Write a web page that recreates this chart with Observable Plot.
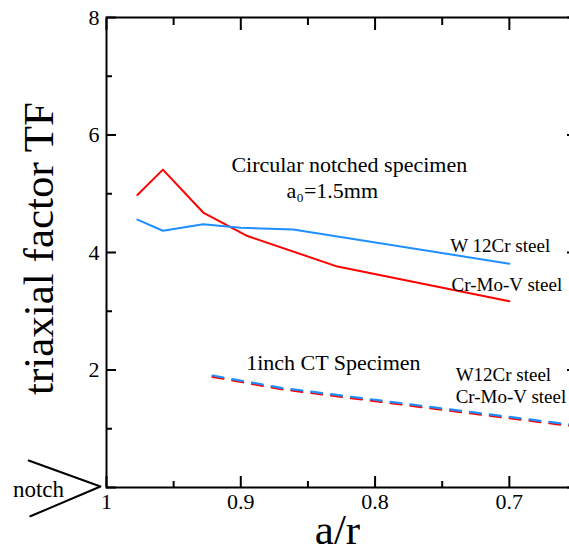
<!DOCTYPE html>
<html><head><meta charset="utf-8">
<script src="https://cdn.jsdelivr.net/npm/d3@7"></script>
<script src="https://cdn.jsdelivr.net/npm/@observablehq/plot@0.6"></script>
<style>html,body{margin:0;padding:0;background:#fff;overflow:hidden}</style>
</head><body><div id="chart"></div>
<script>
// Circular notched specimen, a0 = 1.5mm
const circW12Cr_x = [0.977, 0.958, 0.928, 0.900, 0.861, 0.700];
const circW12Cr_y = [4.56, 4.37, 4.48, 4.42, 4.39, 3.81];
const circCrMoV_x = [0.977, 0.958, 0.928, 0.895, 0.828, 0.700];
const circCrMoV_y = [4.98, 5.41, 4.68, 4.28, 3.76, 3.17];
// 1inch CT specimen
const ctW12Cr_x = [0.921, 0.870, 0.748, 0.650];
const ctW12Cr_y = [1.906, 1.697, 1.340, 1.058];
const ctCrMoV_x = [0.921, 0.870, 0.748, 0.650];
const ctCrMoV_y = [1.884, 1.675, 1.318, 1.036];
// notch symbol
const notch_x = [1.058, 1.0045, 1.0567];
const notch_y = [0.46, 0.017, -0.49];
// ticks
const xMajor = [1, 0.9, 0.8, 0.7];
const xMinor = [0.95, 0.85, 0.75, 0.65];
const yMajor = [0, 2, 4, 6, 8];
const yMinor = [1, 3, 5, 7];
const yLabeled = [2, 4, 6, 8];
// texts
const annoText = ["Circular notched specimen", "a\u2080=1.5mm", "1inch CT Specimen", "notch"];
const annoX = [0.907, 0.866, 0.896, 1.0697];
const annoY = [5.37, 4.92, 2.003, -0.17];
const annoSize = [22, 22, 22, 23];
const steelText = ["W 12Cr steel", "Cr-Mo-V steel", "W12Cr steel", "Cr-Mo-V steel"];
const steelX = [0.744, 0.743, 0.740, 0.740];
const steelY = [4.005, 3.353, 1.809, 1.442];
const xLabel = "a/r";
const yLabel = "triaxial factor TF";

const pts = (xs, ys) => xs.map((x, i) => ({x, y: ys[i]}));
const blue = "#1f8fff", red = "#ff0000";
const annos = annoText.map((t, i) => ({t, x: annoX[i], y: annoY[i], s: annoSize[i]}));
const steels = steelText.map((t, i) => ({t, x: steelX[i], y: steelY[i]}));

const chart = Plot.plot({
  width: 569, height: 552,
  marginLeft: 106, marginRight: -7, marginTop: 17, marginBottom: 65,
  style: {fontFamily: "'Liberation Serif', 'Times New Roman', serif", background: "#fff", color: "#000"},
  x: {domain: [1, 0.65]},
  y: {domain: [0, 8]},
  marks: [
    Plot.line(pts(circCrMoV_x, circCrMoV_y), {x: "x", y: "y", stroke: red, strokeWidth: 2}),
    Plot.line(pts(circW12Cr_x, circW12Cr_y), {x: "x", y: "y", stroke: blue, strokeWidth: 2}),
    Plot.line(pts(ctCrMoV_x, ctCrMoV_y), {x: "x", y: "y", stroke: red, strokeWidth: 2.2, strokeDasharray: "11,9"}),
    Plot.line(pts(ctW12Cr_x, ctW12Cr_y), {x: "x", y: "y", stroke: blue, strokeWidth: 2.2, strokeDasharray: "11,9"}),
    Plot.line(pts(notch_x, notch_y), {x: "x", y: "y", stroke: "#000", strokeWidth: 2}),
    Plot.frame({stroke: "#000", strokeWidth: 2}),
    // inward ticks
    Plot.axisY(yMajor, {anchor: "left", tickSize: 10, dx: 10, fill: "none", label: null, strokeWidth: 2}),
    Plot.axisY(yMinor, {anchor: "left", tickSize: 6, dx: 6, fill: "none", label: null, strokeWidth: 2}),
    Plot.axisY(yMajor, {anchor: "right", tickSize: 10, dx: -10, fill: "none", label: null, strokeWidth: 2}),
    Plot.axisX(xMajor, {anchor: "bottom", tickSize: 11, dy: -11, fill: "none", label: null, strokeWidth: 2}),
    Plot.axisX(xMinor, {anchor: "bottom", tickSize: 6, dy: -6, fill: "none", label: null, strokeWidth: 2}),
    Plot.axisX(xMajor, {anchor: "top", tickSize: 12, dy: 12, fill: "none", label: null, strokeWidth: 2}),
    Plot.axisX(xMinor, {anchor: "top", tickSize: 7, dy: 7, fill: "none", label: null, strokeWidth: 2}),
    // tick labels
    Plot.axisY(yLabeled, {anchor: "left", tickSize: 0, tickPadding: 7, fontSize: 22, label: null, tickFormat: d => String(d)}),
    Plot.axisX(xMajor, {anchor: "bottom", tickSize: 0, tickPadding: 6, fontSize: 22, label: null, tickFormat: d => String(d)}),
    // annotations
    Plot.text(annos, {x: "x", y: "y", text: "t", textAnchor: "start", lineAnchor: "bottom", fontSize: "s", fill: "#000"}),
    Plot.text(steels, {x: "x", y: "y", text: "t", textAnchor: "start", lineAnchor: "bottom", fontSize: 19, fill: "#000"}),
    // axis titles
    Plot.text([xLabel], {frameAnchor: "bottom", textAnchor: "middle", dx: -4, dy: 56, lineAnchor: "bottom", fontSize: 43, fill: "#000"}),
    Plot.text([yLabel], {frameAnchor: "left", textAnchor: "middle", rotate: -90, dx: -54, dy: -4, lineAnchor: "bottom", fontSize: 43, fill: "#000"})
  ]
});
document.getElementById("chart").appendChild(chart);
</script>
</body></html>
